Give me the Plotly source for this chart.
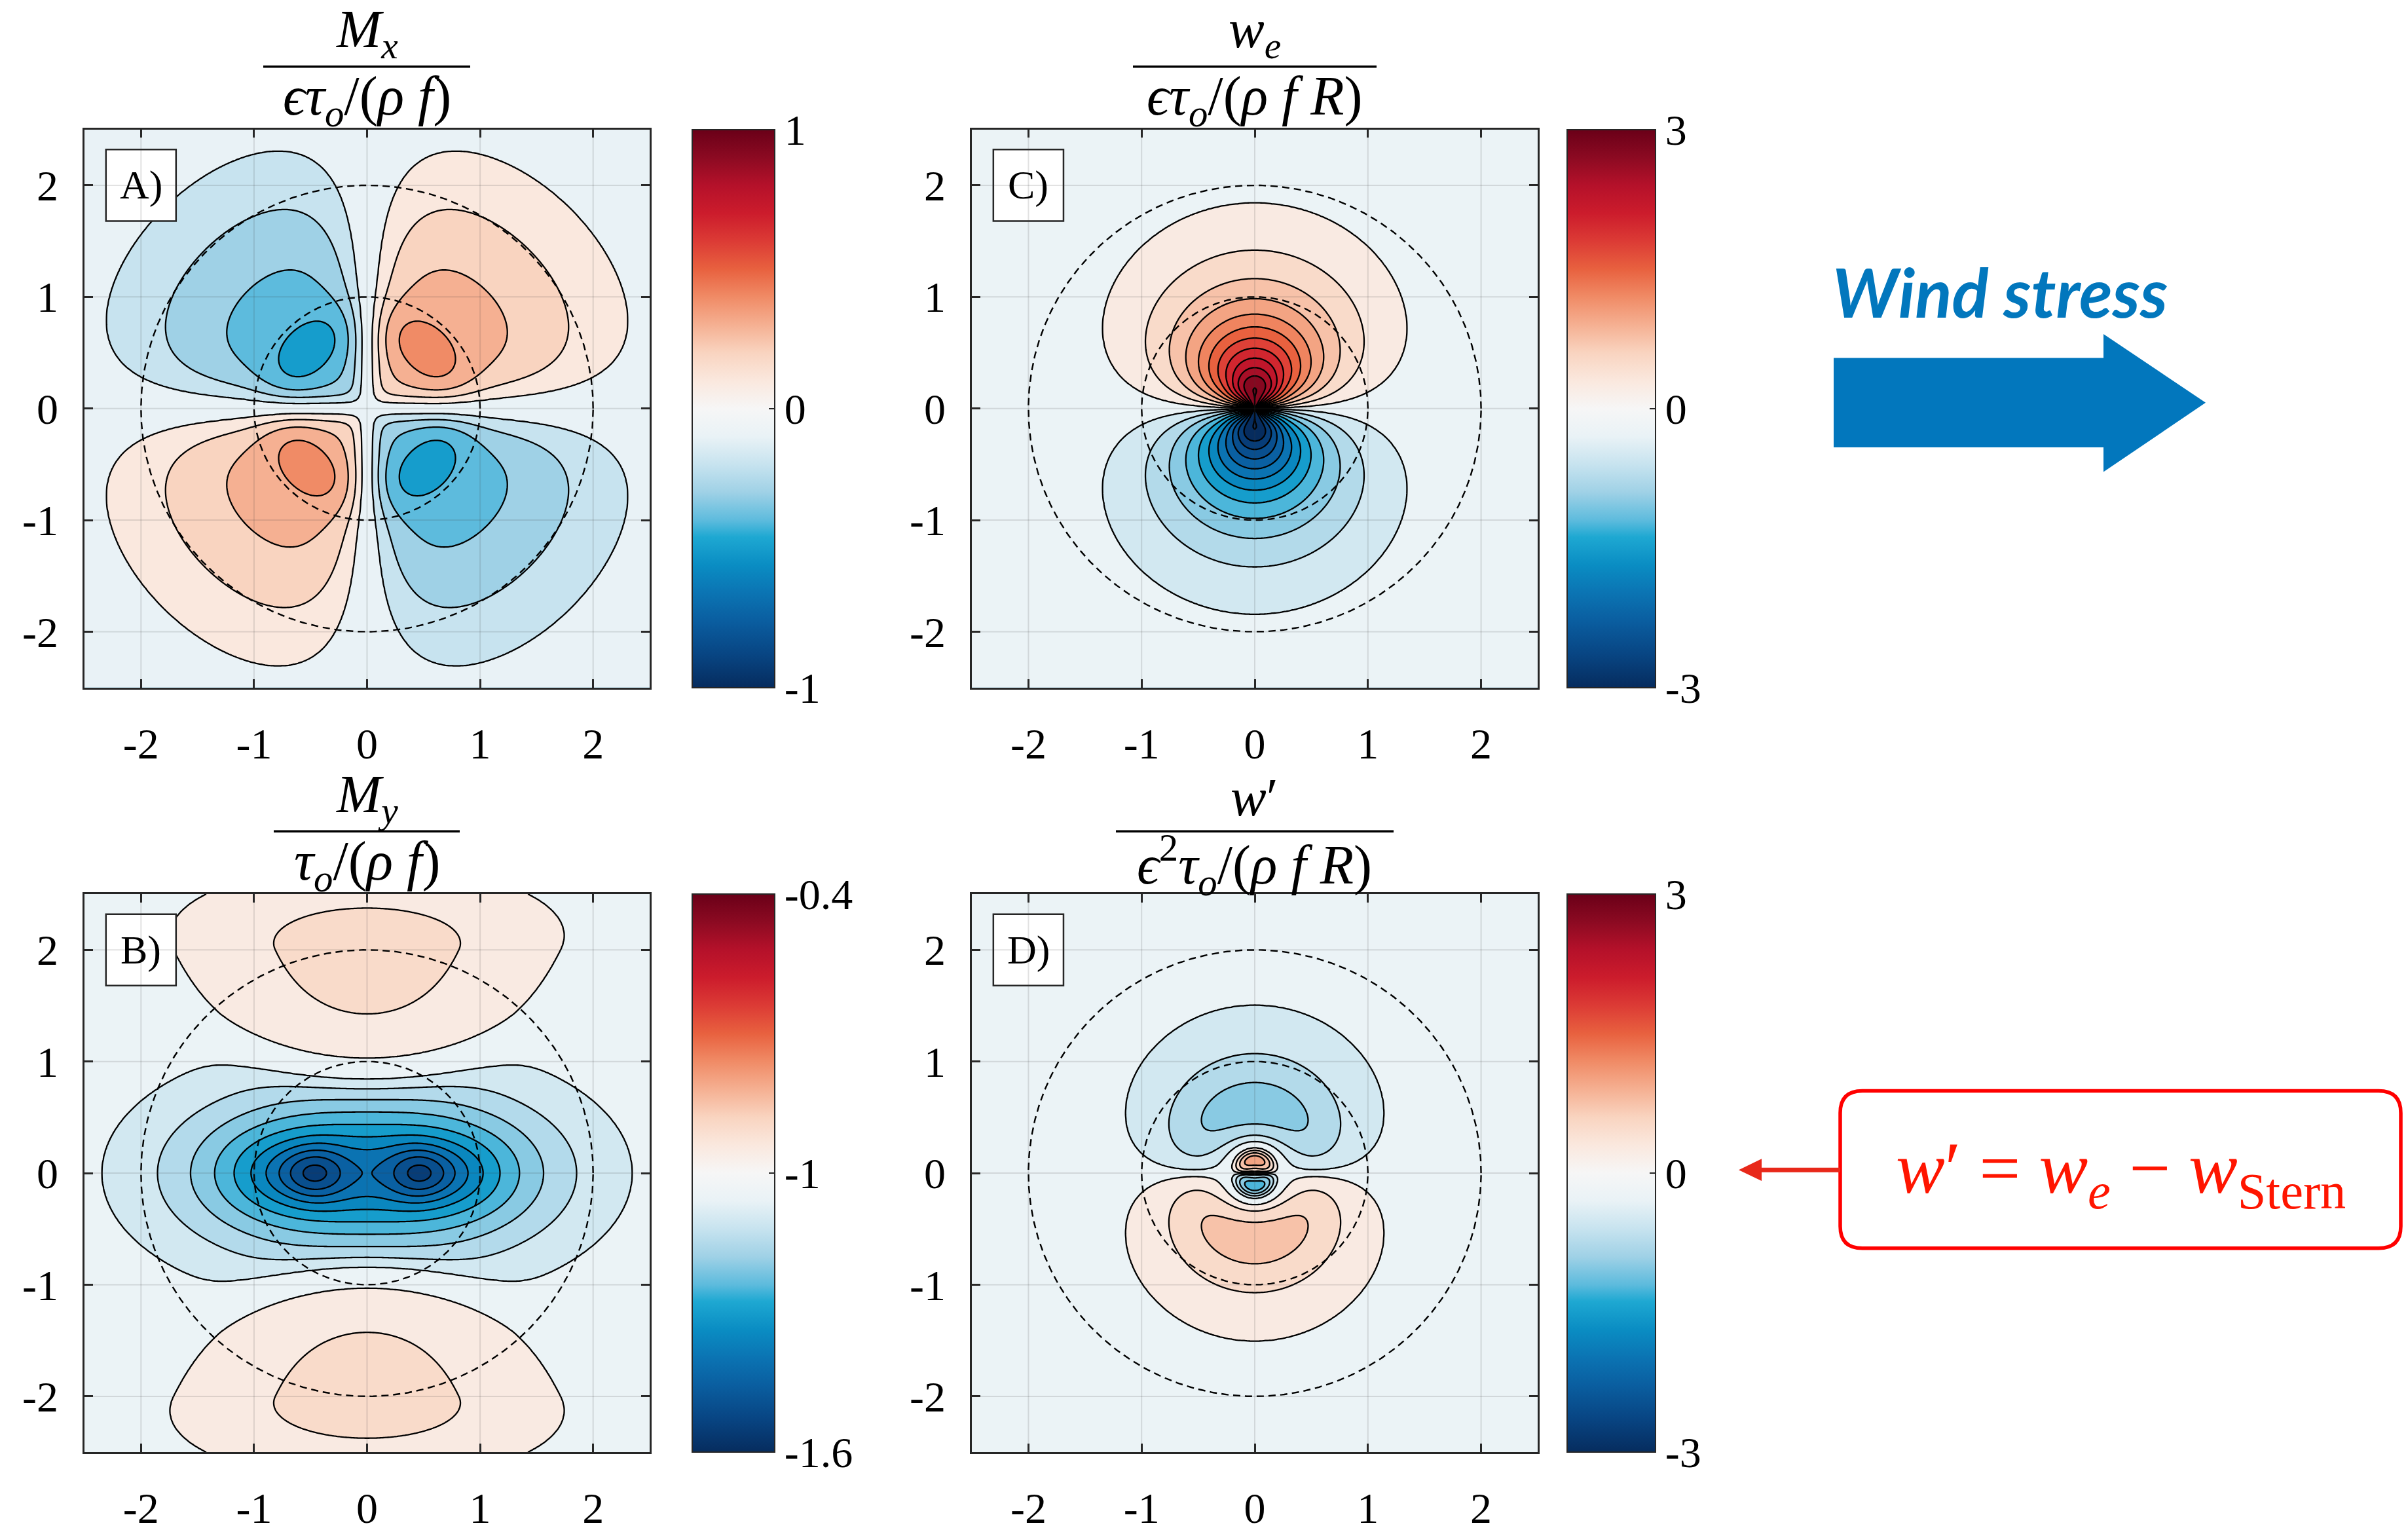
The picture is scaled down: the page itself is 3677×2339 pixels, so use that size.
import numpy as np
import plotly.graph_objects as go

W, H = 3677, 2339

# ------------------------------------------------------------------ data
axis_ticks = [-2, -1, 0, 1, 2]
axis_tick_text = ["-2", "-1", "0", "1", "2"]
circle_radii = [1.0, 2.0]

levels_mx = [-0.4, -0.3, -0.2, -0.1, 0.1, 0.2, 0.3, 0.4]
levels_my = [-1.5, -1.45, -1.4, -1.35, -1.3, -1.25, -1.2, -1.15, -1.1, -1.05, -0.95, -0.9]
levels_we = [-3.0, -2.75, -2.5, -2.25, -2.0, -1.75, -1.5, -1.25, -1.0, -0.75, -0.5, -0.25,
             0.25, 0.5, 0.75, 1.0, 1.25, 1.5, 1.75, 2.0, 2.25, 2.5, 2.75, 3.0]
levels_wp = [-3.0, -2.75, -2.5, -2.25, -2.0, -1.75, -1.5, -1.25, -1.0, -0.75, -0.5, -0.25,
             0.25, 0.5, 0.75, 1.0, 1.25, 1.5, 1.75, 2.0, 2.25, 2.5, 2.75, 3.0]

clim_mx = [-1.0, 1.0]
clim_my = [-1.6, -0.4]
clim_we = [-3.0, 3.0]
clim_wp = [-3.0, 3.0]
cbar_ticks_mx, cbar_text_mx = [-1, 0, 1], ["-1", "0", "1"]
cbar_ticks_my, cbar_text_my = [-1.6, -1.0, -0.4], ["-1.6", "-1", "-0.4"]
cbar_ticks_we, cbar_text_we = [-3, 0, 3], ["-3", "0", "3"]
cbar_ticks_wp, cbar_text_wp = [-3, 0, 3], ["-3", "0", "3"]

# eddy-response profiles, radius in units of the eddy radius R
mx_amp = [0.31, 0.74, 1.5]          # amplitude, r^2 growth, e-folding radius
mx_ring = [0.13, 0.70, 0.30]        # ring amplitude, ring radius, ring width
mx_taper = [0.12, 0.12, 0.04]       # taper width near the axes: a + b r + c r^2

my_core = [0.10, 0.45, 0.25, 0.22]          # twin cores: amplitude, x offset, x width, y width
my_broad = [0.33, 0.62, 0.60, 1.45, 0.35]   # trough: amplitude, x offset, y scale, decay, core
my_lobe = [0.13, 1.45, 0.30, 0.70]          # N/S lobes: amplitude, x width, widening, widening start
my_lobe_y = [1.10, 0.20, 0.30, 2.0, 0.78]   # lower edge, edge curvature, fall-off, upper edge, fall-off

we_prof = [3.0, 0.736, 2.26, 2.5]   # peak, half radius, exponent, cut-off radius
we_bump = [0.05, 0.22, 0.10]
we_ang = 0.7

wp_pos = [1.25, 0.12, 0.11]         # inner cell: amplitude, radius, width
wp_neg = [0.90, 0.60, 2.6]          # outer cell: amplitude, radius, cut-off radius
wp_ang = 0.45

# diverging colour map (position, rgb)
cmap_pos = [0.0, 0.06, 0.12, 0.17, 0.22, 0.27, 0.30, 0.35, 0.40, 0.45, 0.50,
            0.55, 0.60, 0.65, 0.70, 0.75, 0.80, 0.85, 0.90, 0.95, 1.0]
cmap_rgb = [(6, 44, 94), (8, 69, 131), (10, 94, 160), (11, 116, 179), (10, 141, 195),
            (30, 168, 210), (93, 187, 221), (159, 209, 230), (199, 227, 239), (233, 242, 246),
            (246, 246, 246), (250, 232, 222), (249, 212, 192), (245, 176, 146), (240, 139, 102),
            (232, 97, 63), (220, 59, 53), (204, 28, 44), (181, 17, 42), (140, 10, 34), (106, 0, 24)]


# ------------------------------------------------------------------ helpers
def rgb_at(t):
    t = min(max(t, 0.0), 1.0)
    c = [np.interp(t, cmap_pos, [v[i] for v in cmap_rgb]) for i in range(3)]
    return "rgb(%d,%d,%d)" % tuple(int(round(v)) for v in c)


cont_scale = [[p, "rgb(%d,%d,%d)" % c] for p, c in zip(cmap_pos, cmap_rgb)]


def to_index(F, L):
    """Map the field onto contour-index space so uneven levels become unit steps."""
    L = np.asarray(L, float)
    n = len(L)
    G = np.interp(F, L, np.arange(n, dtype=float))
    lo = F < L[0]
    hi = F > L[-1]
    G[lo] = (F[lo] - L[0]) / (L[1] - L[0])
    G[hi] = n - 1 + (F[hi] - L[-1]) / (L[-1] - L[-2])
    return np.round(G, 4)


def band_scale(L, clim):
    """Each filled band takes the colour of its lower level."""
    n = len(L)
    norm = lambda v: (v - clim[0]) / (clim[1] - clim[0])
    cols = [rgb_at(norm(L[0] - (L[1] - L[0])))] + [rgb_at(norm(v)) for v in L]
    scale = []
    for j, c in enumerate(cols):
        a = max(0.0, (j - 0.75) / n)
        b = min(1.0, (j + 0.25) / n)
        scale += [[a, c], [b, c]]
    return scale


def fx(px):
    return px / W


def fy(py):
    return 1 - py / H


# ------------------------------------------------------------------ fields
xg = np.linspace(-2.5, 2.5, 361)
X, Y = np.meshgrid(xg, xg)
R = np.hypot(X, Y)
S = np.divide(Y, R, out=np.zeros_like(R), where=R > 0)
AY = np.abs(Y)


def ang(p):
    return np.sign(S) * np.abs(S) ** p


# M_x : quadrupole
a, b, L = mx_amp
ra, r0, rw = mx_ring
f_mx = a * (1 + b * R ** 2) * np.exp(-(R / L) ** 2) + ra * np.exp(-((R - r0) / rw) ** 2)
dlt = mx_taper[0] + mx_taper[1] * R + mx_taper[2] * R ** 2
F_mx = f_mx * np.tanh(X / dlt) * np.tanh(Y / dlt)

# M_y : twin trough plus northern / southern lobes
A1, x0, sx, sy = my_core
core = A1 * (np.exp(-((X - x0) / sx) ** 2 - (Y / sy) ** 2) + np.exp(-((X + x0) / sx) ** 2 - (Y / sy) ** 2))
A2, xb, ay, kk, s0 = my_broad


def blob(xc):
    return np.exp(-kk * (np.sqrt(s0 ** 2 + (X - xc) ** 2 + (Y / ay) ** 2) - s0))


trough = A2 * (blob(xb) + blob(-xb))
A3, lx0, lx1, ly0 = my_lobe
yl, yl2, wl, yt, wt = my_lobe_y
lxy = lx0 + lx1 * np.maximum(AY - ly0, 0)
edge = yl + yl2 * X ** 2
lobe = (A3 * np.exp(-(X / lxy) ** 2)
        * np.exp(-(np.maximum(0, edge - AY) / wl) ** 2)
        * np.exp(-(np.maximum(0, AY - yt) / wt) ** 2))
F_my = -1 - core - trough + lobe

# w_e : dipole
p0, rc, pe, rcut = we_prof
bA, bR, bW = we_bump
f_we = p0 / (1 + (R / rc) ** pe) * np.exp(-(R / rcut) ** 4) * (1 + bA * np.exp(-((R - bR) / bW) ** 2))
F_we = ang(we_ang) * f_we

# w' : residual dipole with reversed inner cell
Pa, Pr, Pw = wp_pos
Na, Nr, Nc = wp_neg
u = R / Nr
g_wp = Pa * np.exp(-((R - Pr) / Pw) ** 2) - Na * 2 * u ** 2 / (1 + u ** 4) * np.exp(-(R / Nc) ** 4)
F_wp = ang(wp_ang) * g_wp

# ------------------------------------------------------------------ panels
panels = [
    dict(tag="A)", ax="", F=F_mx, L=levels_mx, clim=clim_mx, ct=cbar_ticks_mx, ctt=cbar_text_mx,
         px=(129, 992), py=(200, 1062), cb=(1057, 126),
         num="<i>M</i><sub><i>x</i></sub>",
         den="<i>ϵτ</i><sub><i>o</i></sub>/(<i>ρ f</i>)", bar=(402, 718), ybar=103),
    dict(tag="C)", ax="2", F=F_we, L=levels_we, clim=clim_we, ct=cbar_ticks_we, ctt=cbar_text_we,
         px=(1484, 2348), py=(200, 1062), cb=(2393, 135),
         num="<i>w</i><sub><i>e</i></sub>",
         den="<i>ϵτ</i><sub><i>o</i></sub>/(<i>ρ f R</i>)", bar=(1730, 2102), ybar=103),
    dict(tag="B)", ax="3", F=F_my, L=levels_my, clim=clim_my, ct=cbar_ticks_my, ctt=cbar_text_my,
         px=(129, 992), py=(1381, 2243), cb=(1057, 126),
         num="<i>M</i><sub><i>y</i></sub>",
         den="<i>τ</i><sub><i>o</i></sub>/(<i>ρ f</i>)", bar=(418, 702), ybar=1284),
    dict(tag="D)", ax="4", F=F_wp, L=levels_wp, clim=clim_wp, ct=cbar_ticks_wp, ctt=cbar_text_wp,
         px=(1484, 2348), py=(1381, 2243), cb=(2393, 135),
         num="<i>w</i>′",
         den="<i>ϵ</i><sup>2</sup><i>τ</i><sub><i>o</i></sub>/(<i>ρ f R</i>)", bar=(1704, 2128), ybar=1284),
]

SERIF = "Liberation Serif, Times New Roman, DejaVu Serif, serif"
INK = "#262626"
fig = go.Figure()
shapes, annotations = [], []
layout = dict(width=W, height=H, margin=dict(l=0, r=0, t=0, b=0), autosize=False,
              paper_bgcolor="white", plot_bgcolor="white", showlegend=False,
              font=dict(family=SERIF, color="black"))

th = np.linspace(0, 2 * np.pi, 721)

for p in panels:
    xa, ya = "x" + p["ax"], "y" + p["ax"]
    n = len(p["L"])
    G = to_index(p["F"], p["L"])
    fig.add_trace(go.Contour(
        x=xg, y=xg, z=G, xaxis=xa, yaxis=ya, autocontour=False,
        contours=dict(start=0, end=n - 1, size=1, coloring="fill", showlines=True),
        line=dict(color="black", width=2.3, smoothing=0),
        colorscale=band_scale(p["L"], p["clim"]), showscale=False, hoverinfo="skip"))
    for rad in circle_radii:
        fig.add_trace(go.Scatter(
            x=rad * np.cos(th), y=rad * np.sin(th), xaxis=xa, yaxis=ya, mode="lines",
            line=dict(color="black", width=2.4, dash="11px,7px"), hoverinfo="skip"))
    cb_x, cb_w = p["cb"]
    fig.add_trace(go.Scatter(
        x=[None, None], y=[None, None], xaxis=xa, yaxis=ya, mode="markers",
        marker=dict(color=p["clim"], cmin=p["clim"][0], cmax=p["clim"][1], colorscale=cont_scale,
                    showscale=True,
                    colorbar=dict(x=fx(cb_x), xanchor="left", y=fy((p["py"][0] + p["py"][1]) / 2),
                                  yanchor="middle", len=(p["py"][1] - p["py"][0]) / H, lenmode="fraction",
                                  thickness=cb_w, thicknessmode="pixels", xpad=0, ypad=0,
                                  outlinewidth=2, outlinecolor=INK, tickvals=p["ct"], ticktext=p["ctt"],
                                  ticks="inside", ticklen=10, tickcolor=INK, tickwidth=2,
                                  tickfont=dict(family=SERIF, size=66, color="black"))),
        hoverinfo="skip"))

    ax_common = dict(range=[-2.5, 2.5], tickvals=axis_ticks, ticktext=axis_tick_text, ticks="inside",
                     ticklen=13, tickwidth=2.5, tickcolor=INK, showline=True, linewidth=2.5,
                     linecolor=INK, mirror="ticks", showgrid=False, zeroline=False, fixedrange=True,
                     tickfont=dict(family=SERIF, size=66, color="black"))
    layout["xaxis" + p["ax"]] = dict(ax_common, domain=[fx(p["px"][0]), fx(p["px"][1])], anchor=ya,
                                     ticklabelstandoff=26)
    layout["yaxis" + p["ax"]] = dict(ax_common, domain=[fy(p["py"][1]), fy(p["py"][0])], anchor=xa,
                                     ticklabelstandoff=24)

    # panel tag box, then the grid drawn over everything
    shapes.append(dict(type="rect", xref=xa + " domain", yref=ya + " domain", x0=0.038, x1=0.162,
                       y0=0.836, y1=0.964, line=dict(color=INK, width=2.5), fillcolor="white",
                       layer="above"))
    for t in axis_ticks:
        shapes.append(dict(type="line", xref=xa, yref=ya + " domain", x0=t, x1=t, y0=0, y1=1,
                           line=dict(color="rgba(60,60,60,0.15)", width=2), layer="above"))
        shapes.append(dict(type="line", xref=xa + " domain", yref=ya, x0=0, x1=1, y0=t, y1=t,
                           line=dict(color="rgba(60,60,60,0.15)", width=2), layer="above"))
    annotations.append(dict(text=p["tag"], xref=xa + " domain", yref=ya + " domain", x=0.1, y=0.9,
                            xanchor="center", yanchor="middle", showarrow=False,
                            font=dict(family=SERIF, size=62, color="black")))

    # fraction title
    cx = (p["px"][0] + p["px"][1]) / 2
    annotations.append(dict(text=p["num"], xref="paper", yref="paper", x=fx(cx), y=fy(p["ybar"] - 52),
                            xanchor="center", yanchor="middle", showarrow=False,
                            font=dict(family=SERIF, size=82, color="black")))
    annotations.append(dict(text=p["den"], xref="paper", yref="paper", x=fx(cx), y=fy(p["ybar"] + 52),
                            xanchor="center", yanchor="middle", showarrow=False,
                            font=dict(family=SERIF, size=84, color="black")))
    shapes.append(dict(type="line", xref="paper", yref="paper", x0=fx(p["bar"][0]), x1=fx(p["bar"][1]),
                       y0=fy(p["ybar"]), y1=fy(p["ybar"]), line=dict(color="black", width=3.5)))


def path(pts, close=True):
    s = "M " + " L ".join("%.6f,%.6f" % (fx(x), fy(y)) for x, y in pts)
    return s + (" Z" if close else "")


# wind stress arrow
BLUE = "#0277BD"
shapes.append(dict(type="path", xref="paper", yref="paper",
                   path=path([(2800, 553), (3212, 553), (3212, 516), (3368, 622), (3212, 729),
                              (3212, 691), (2800, 691)]),
                   fillcolor=BLUE, line=dict(width=0)))
annotations.append(dict(text="Wind stress", xref="paper", yref="paper", x=fx(2796), y=fy(450),
                        xanchor="left", yanchor="middle", showarrow=False,
                        font=dict(family="Lato", size=104, color=BLUE, weight="bold", style="italic")))

# red call-out box
RED = "#FF1500"
bx0, bx1, by0, by1, rr = 2810, 3666, 1685, 1928, 34
rounded = ("M %f,%f L %f,%f Q %f,%f %f,%f L %f,%f Q %f,%f %f,%f L %f,%f Q %f,%f %f,%f L %f,%f Q %f,%f %f,%f Z" % (
    fx(bx0 + rr), fy(by0), fx(bx1 - rr), fy(by0), fx(bx1), fy(by0), fx(bx1), fy(by0 + rr),
    fx(bx1), fy(by1 - rr), fx(bx1), fy(by1), fx(bx1 - rr), fy(by1),
    fx(bx0 + rr), fy(by1), fx(bx0), fy(by1), fx(bx0), fy(by1 - rr),
    fx(bx0), fy(by0 + rr), fx(bx0), fy(by0), fx(bx0 + rr), fy(by0)))
shapes.append(dict(type="path", xref="paper", yref="paper", path=rounded,
                   line=dict(color="#FF0000", width=5.5), fillcolor="rgba(0,0,0,0)"))
shapes.append(dict(type="line", xref="paper", yref="paper", x0=fx(2810), x1=fx(2688), y0=fy(1807),
                   y1=fy(1807), line=dict(color="#E8281A", width=7)))
shapes.append(dict(type="path", xref="paper", yref="paper",
                   path=path([(2655, 1807), (2690, 1790), (2690, 1824)]),
                   fillcolor="#E8281A", line=dict(width=0)))
annotations.append(dict(text="<i>w</i>′ = <i>w</i><sub><i>e</i></sub> − <i>w</i><sub>Stern</sub>",
                        xref="paper", yref="paper", x=fx(3238), y=fy(1812), xanchor="center",
                        yanchor="middle", showarrow=False,
                        font=dict(family=SERIF, size=112, color=RED)))

layout["shapes"] = shapes
layout["annotations"] = annotations
fig.update_layout(**layout)
fig.write_html("out.html")
